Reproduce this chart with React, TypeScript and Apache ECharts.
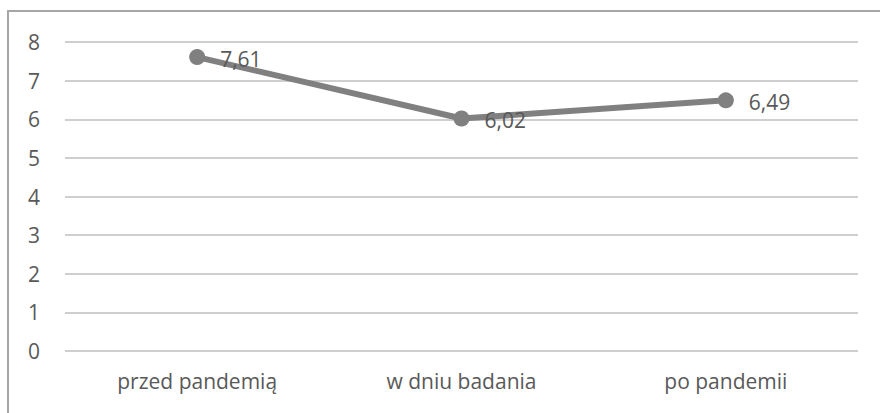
import React, { useEffect, useRef } from "react";
import * as echarts from "echarts";

const categories = ["przed pandemią", "w dniu badania", "po pandemii"];
const values = [7.61, 6.02, 6.49];
const yTicks = [0, 1, 2, 3, 4, 5, 6, 7, 8];

export default function App() {
  const ref = useRef<HTMLDivElement>(null);
  useEffect(() => {
    if (!ref.current) return;
    const chart = echarts.init(ref.current, null, { renderer: "svg" });
    const font = "'Open Sans', 'Noto Sans', sans-serif";
    chart.setOption({
      animation: false,
      backgroundColor: "#ffffff",
      textStyle: { fontFamily: font },
      graphic: [
        {
          type: "rect",
          shape: { x: 8, y: 11, width: 900, height: 500 },
          style: { fill: "none", stroke: "#a6a6a6", lineWidth: 2 },
          silent: true,
        },
      ],
      grid: { left: 65, right: 22, top: 42, bottom: 62 },
      xAxis: {
        type: "category",
        data: categories,
        boundaryGap: true,
        axisLine: { show: false },
        axisTick: { show: false },
        axisLabel: { color: "#595959", fontSize: 21, margin: 19, fontFamily: font },
      },
      yAxis: {
        type: "value",
        min: yTicks[0],
        max: yTicks[yTicks.length - 1],
        interval: 1,
        axisLine: { show: false },
        axisTick: { show: false },
        axisLabel: { color: "#595959", fontSize: 21, margin: 25, fontFamily: font },
        splitLine: { lineStyle: { color: "#bfbfbf", width: 1.5 } },
      },
      series: [
        {
          type: "line",
          data: values,
          symbol: "circle",
          symbolSize: 16,
          lineStyle: { color: "#808080", width: 6 },
          itemStyle: { color: "#808080" },
          label: {
            show: true,
            position: "right",
            distance: 15,
            offset: [0, 2],
            color: "#595959",
            fontSize: 21,
            fontFamily: font,
            formatter: (p: any) => String(p.value).replace(".", ","),
          },
        },
      ],
    });
    return () => chart.dispose();
  }, []);
  return (
    <div
      ref={ref}
      style={{ position: "fixed", left: 0, top: 0, width: 880, height: 413 }}
    />
  );
}
